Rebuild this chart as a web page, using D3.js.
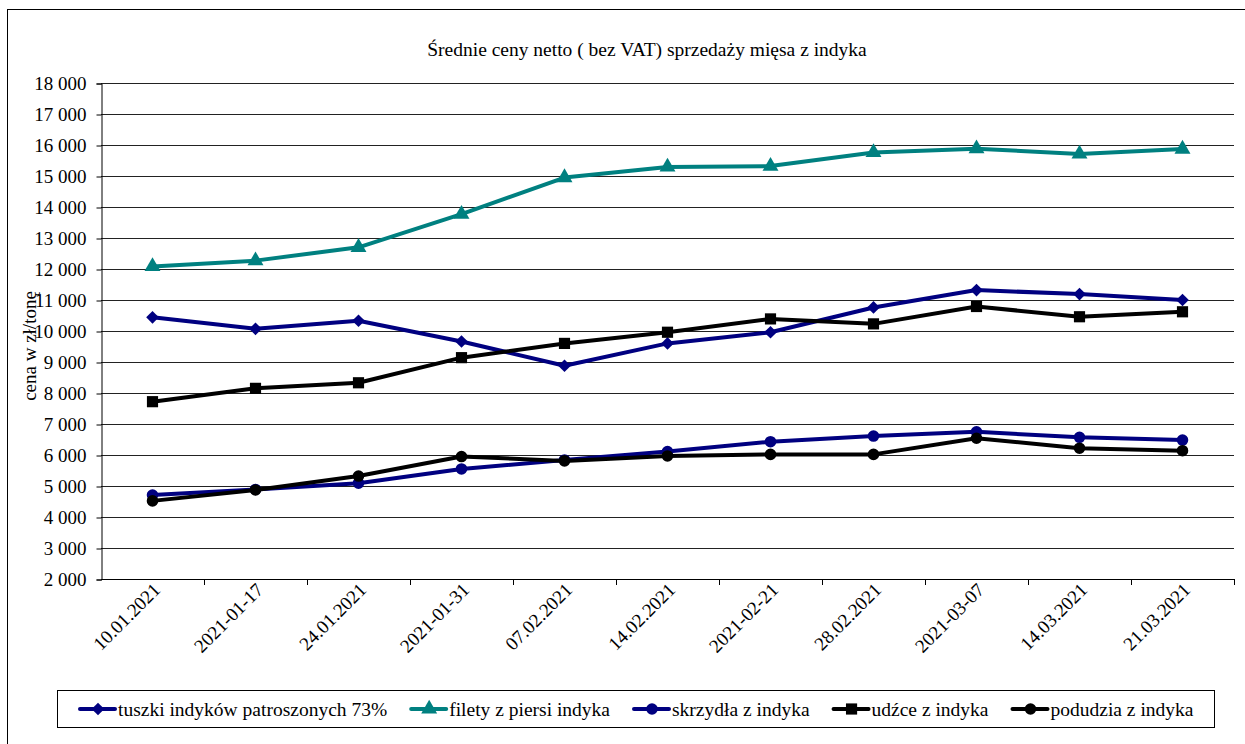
<!DOCTYPE html>
<html>
<head>
<meta charset="utf-8">
<script src="https://cdn.jsdelivr.net/npm/d3@7.9.0/dist/d3.min.js"></script>
<style>
  body { margin: 0; background: #fff; }
  #chart text { font-family: 'Liberation Serif', 'DejaVu Serif', 'Times New Roman', serif !important; fill: #000; }
</style>
</head>
<body>
<svg id="chart" width="1245" height="744"></svg>
<script>
// weekly dates (labels as in the source)
const dates = ['10.01.2021', '2021-01-17', '24.01.2021', '2021-01-31', '07.02.2021', '14.02.2021',
               '2021-02-21', '28.02.2021', '2021-03-07', '14.03.2021', '21.03.2021'];

// prices, zł / tonne
const tuszki   = [10440, 10070, 10330, 9660, 8880, 9600, 9960, 10760, 11320, 11190, 11000];
const filety   = [12080, 12270, 12700, 13770, 14950, 15290, 15320, 15760, 15880, 15710, 15870];
const skrzydla = [4710, 4890, 5090, 5550, 5840, 6110, 6430, 6610, 6750, 6570, 6480];
const udzce    = [7720, 8150, 8330, 9140, 9600, 9960, 10390, 10230, 10790, 10460, 10620];
const podudzia = [4520, 4870, 5320, 5950, 5810, 5970, 6020, 6020, 6540, 6220, 6140];

const yTicks = d3.range(2000, 18001, 1000);

const FONT = "'Liberation Serif', 'DejaVu Serif', serif";

const series = [
  { name: 'tuszki indyków patroszonych 73%', values: tuszki, color: '#000080', symbol: d3.symbolSquare, size: 80, rot: 45 },
  { name: 'filety z piersi indyka', values: filety, color: '#008080', symbol: d3.symbolTriangle, size: 110, rot: 0 },
  { name: 'skrzydła z indyka', values: skrzydla, color: '#000080', symbol: d3.symbolCircle, size: 105, rot: 0 },
  { name: 'udźce z indyka', values: udzce, color: '#000000', symbol: d3.symbolSquare, size: 125, rot: 0 },
  { name: 'podudzia z indyka', values: podudzia, color: '#000000', symbol: d3.symbolCircle, size: 105, rot: 0 }
];

const svg = d3.select('#chart');
const plot = { left: 101, right: 1234, top: 83, bottom: 579 };

// outer frame
svg.append('rect')
  .attr('x', 7.5).attr('y', 9.5)
  .attr('width', 1260).attr('height', 760)
  .attr('fill', 'none').attr('stroke', '#000').attr('stroke-width', 1);

const x = d3.scaleBand().domain(dates).range([plot.left, plot.right]);
const y = d3.scaleLinear().domain([2000, 18000]).range([plot.bottom, plot.top]);

// title
svg.append('text')
  .attr('x', 647).attr('y', 56)
  .attr('text-anchor', 'middle')
  .attr('font-family', FONT)
  .style('font-size', '19.5px')
  .text('Średnie ceny netto ( bez VAT) sprzedaży mięsa z indyka');

// gridlines
svg.append('g')
  .selectAll('line')
  .data(yTicks)
  .join('line')
  .attr('x1', plot.left).attr('x2', plot.right)
  .attr('y1', d => Math.round(y(d)) + 0.5)
  .attr('y2', d => Math.round(y(d)) + 0.5)
  .attr('stroke', '#222')
  .attr('stroke-width', 1);

// y axis
const yAxis = svg.append('g')
  .attr('transform', `translate(${plot.left + 0.5},0.5)`)
  .call(d3.axisLeft(y).tickValues(yTicks).tickSize(5).tickPadding(10)
    .tickFormat(d => d3.format(',')(d).replace(',', ' ')));
yAxis.attr('font-family', FONT).attr('font-size', 19);
yAxis.select('.domain').attr('stroke', '#000');
yAxis.selectAll('.tick line').attr('stroke', '#000');

// x axis
const xAxis = svg.append('g')
  .attr('transform', `translate(0,${plot.bottom + 0.5})`)
  .call(d3.axisBottom(x).tickSize(0).tickFormat(''));
xAxis.select('.domain').attr('stroke', '#000').attr('d', `M${plot.left},0H${plot.right}`);

// tick marks on category boundaries
svg.append('g')
  .selectAll('line')
  .data(dates)
  .join('line')
  .attr('x1', d => Math.round(x(d) + x.bandwidth()) + 0.5)
  .attr('x2', d => Math.round(x(d) + x.bandwidth()) + 0.5)
  .attr('y1', plot.bottom).attr('y2', plot.bottom + 6)
  .attr('stroke', '#000');

// rotated category labels
svg.append('g')
  .attr('font-family', FONT)
  .selectAll('text')
  .data(dates)
  .join('text')
  .attr('text-anchor', 'end')
  .attr('transform', d => `translate(${x(d) + x.bandwidth() / 2 + 9},${plot.bottom + 12}) rotate(-45)`)
  .style('font-size', '19px')
  .text(d => d);

// y axis title
svg.append('text')
  .attr('transform', 'translate(36,346) rotate(-90)')
  .attr('text-anchor', 'middle')
  .attr('font-family', FONT)
  .style('font-size', '19px')
  .text('cena w zł/tonę');

// lines and markers
const line = d3.line()
  .x((d, i) => x(dates[i]) + x.bandwidth() / 2)
  .y(d => y(d));

series.forEach(s => {
  const g = svg.append('g');
  g.append('path')
    .datum(s.values)
    .attr('d', line)
    .attr('fill', 'none')
    .attr('stroke', s.color)
    .attr('stroke-width', 4)
    .attr('stroke-linejoin', 'round');
  g.selectAll('path.mark')
    .data(s.values)
    .join('path')
    .attr('class', 'mark')
    .attr('d', d3.symbol().type(s.symbol).size(s.size))
    .attr('transform', (d, i) => `translate(${x(dates[i]) + x.bandwidth() / 2},${y(d)}) rotate(${s.rot})`)
    .attr('fill', s.color);
});

// legend
const legend = svg.append('g');
legend.append('rect')
  .attr('x', 57.5).attr('y', 690.5)
  .attr('width', 1157).attr('height', 37)
  .attr('fill', '#fff').attr('stroke', '#000');

let lx = 80;
series.forEach(s => {
  const item = legend.append('g').attr('transform', `translate(${lx},709)`);
  item.append('line')
    .attr('x1', 0).attr('x2', 35)
    .attr('stroke', s.color).attr('stroke-width', 4).attr('stroke-linecap', 'round');
  item.append('path')
    .attr('d', d3.symbol().type(s.symbol).size(s.size))
    .attr('transform', `translate(18,0) rotate(${s.rot})`)
    .attr('fill', s.color);
  const t = item.append('text')
    .attr('x', 38).attr('y', 6.5)
    .attr('font-family', FONT)
    .style('font-size', '19.5px')
    .text(s.name);
  lx += 38 + t.node().getComputedTextLength() + 24;
});
</script>
</body>
</html>
